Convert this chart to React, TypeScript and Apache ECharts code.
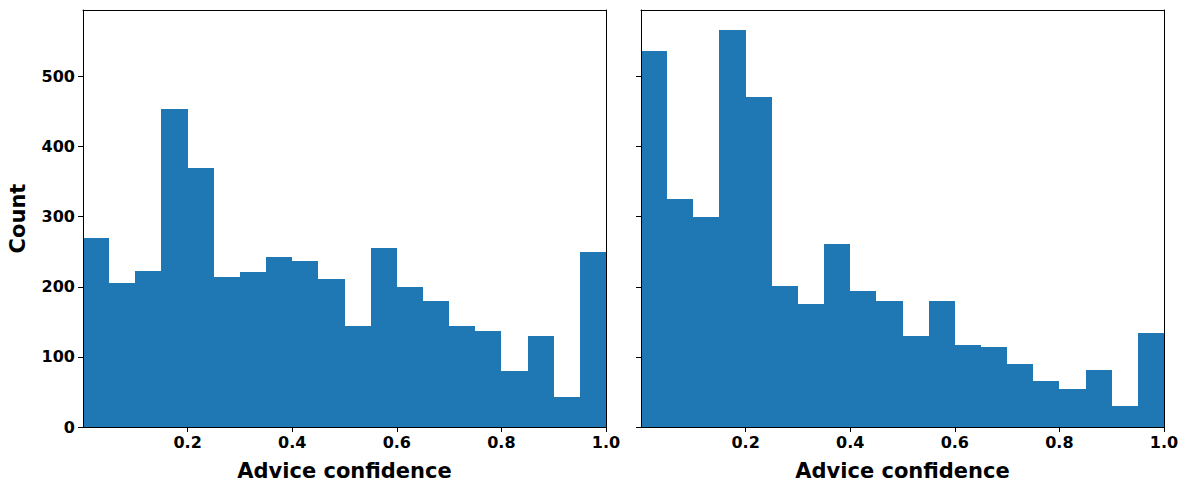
import React, { useEffect, useRef } from "react";
import * as echarts from "echarts";

// Histogram bin edges (20 bins of width 0.05 over [0, 1])
const BIN_EDGES = [
  0, 0.05, 0.1, 0.15, 0.2, 0.25, 0.3, 0.35, 0.4, 0.45, 0.5,
  0.55, 0.6, 0.65, 0.7, 0.75, 0.8, 0.85, 0.9, 0.95, 1.0,
];

// Counts per bin, left panel
const LEFT_COUNTS = [
  269, 206, 223, 454, 369, 214, 221, 243, 237, 211,
  144, 256, 200, 180, 144, 137, 80, 130, 43, 249,
];

// Counts per bin, right panel
const RIGHT_COUNTS = [
  537, 326, 299, 567, 471, 201, 176, 261, 194, 180,
  130, 180, 117, 114, 90, 66, 54, 81, 30, 134,
];

const X_TICKS = [0.2, 0.4, 0.6, 0.8, 1.0];
const Y_TICKS = [0, 100, 200, 300, 400, 500];
const Y_MAX = 595;

const X_TITLE = "Advice confidence";
const Y_TITLE = "Count";

const BAR_COLOR = "#1f77b4";
const FONT = "DejaVu Sans";

function toRows(counts: number[]) {
  return counts.map((c, i) => [BIN_EDGES[i], BIN_EDGES[i + 1], c]);
}

export default function App() {
  const ref = useRef<HTMLDivElement>(null);

  useEffect(() => {
    document.body.style.margin = "0";
    if (!ref.current) return;
    const chart = echarts.init(ref.current, null, { renderer: "svg" });

    const grids = [
      { left: 83, top: 10, width: 523, height: 417 },
      { left: 641, top: 10, width: 523, height: 417 },
    ];

    const tickLabelStyle = {
      fontFamily: FONT,
      fontWeight: "bold" as const,
      fontSize: 16,
      color: "#000",
    };

    const titleStyle = {
      fontFamily: FONT,
      fontWeight: "bold" as const,
      fontSize: 21,
      color: "#000",
    };

    const bottomAxis = (gi: number) => ({
      type: "value",
      gridIndex: gi,
      position: "bottom",
      min: 0,
      max: 1,
      z: 10,
      name: X_TITLE,
      nameLocation: "middle",
      nameGap: 33,
      nameTextStyle: titleStyle,
      axisLine: { show: true, onZero: false, lineStyle: { color: "#000", width: 1 } },
      axisTick: {
        show: true,
        inside: false,
        length: 5,
        customValues: X_TICKS,
        lineStyle: { color: "#000", width: 1 },
      },
      axisLabel: {
        ...tickLabelStyle,
        margin: 7,
        customValues: X_TICKS,
        formatter: (v: number) => v.toFixed(1),
      },
      splitLine: { show: false },
    });

    const topAxis = (gi: number) => ({
      type: "value",
      gridIndex: gi,
      position: "top",
      min: 0,
      max: 1,
      z: 10,
      axisLine: { show: true, onZero: false, lineStyle: { color: "#000", width: 1 } },
      axisTick: { show: false },
      axisLabel: { show: false },
      splitLine: { show: false },
    });

    const leftAxis = (gi: number, showLabels: boolean) => ({
      type: "value",
      gridIndex: gi,
      position: "left",
      min: 0,
      max: Y_MAX,
      z: 10,
      ...(showLabels
        ? {
            name: Y_TITLE,
            nameLocation: "middle",
            nameGap: 55,
            nameRotate: 90,
            nameTextStyle: titleStyle,
          }
        : {}),
      axisLine: { show: true, onZero: false, lineStyle: { color: "#000", width: 1 } },
      axisTick: {
        show: true,
        inside: false,
        length: 5,
        customValues: Y_TICKS,
        lineStyle: { color: "#000", width: 1 },
      },
      axisLabel: {
        ...tickLabelStyle,
        show: showLabels,
        margin: 8,
        customValues: Y_TICKS,
      },
      splitLine: { show: false },
    });

    const rightAxis = (gi: number) => ({
      type: "value",
      gridIndex: gi,
      position: "right",
      min: 0,
      max: Y_MAX,
      z: 10,
      axisLine: { show: true, onZero: false, lineStyle: { color: "#000", width: 1 } },
      axisTick: { show: false },
      axisLabel: { show: false },
      splitLine: { show: false },
    });

    // Bars are snapped to whole pixels so neighbouring bins join without seams.
    const histSeries = (gi: number, counts: number[]) => ({
      type: "custom",
      xAxisIndex: gi * 2,
      yAxisIndex: gi * 2,
      data: toRows(counts),
      encode: { x: [0, 1], y: 2 },
      renderItem: (_params: any, api: any) => {
        const topLeft = api.coord([api.value(0), api.value(2)]);
        const bottomRight = api.coord([api.value(1), 0]);
        const x0 = Math.round(topLeft[0]);
        const x1 = Math.round(bottomRight[0]);
        const y0 = Math.round(topLeft[1]);
        const y1 = Math.round(bottomRight[1]);
        return {
          type: "rect",
          shape: { x: x0, y: y0, width: x1 - x0, height: y1 - y0 },
          style: { fill: BAR_COLOR },
        };
      },
    });

    chart.setOption({
      animation: false,
      backgroundColor: "#fff",
      grid: grids,
      xAxis: [bottomAxis(0), topAxis(0), bottomAxis(1), topAxis(1)],
      yAxis: [leftAxis(0, true), rightAxis(0), leftAxis(1, false), rightAxis(1)],
      series: [histSeries(0, LEFT_COUNTS), histSeries(1, RIGHT_COUNTS)],
    });

    return () => chart.dispose();
  }, []);

  return <div ref={ref} style={{ width: 1189, height: 490 }} />;
}
